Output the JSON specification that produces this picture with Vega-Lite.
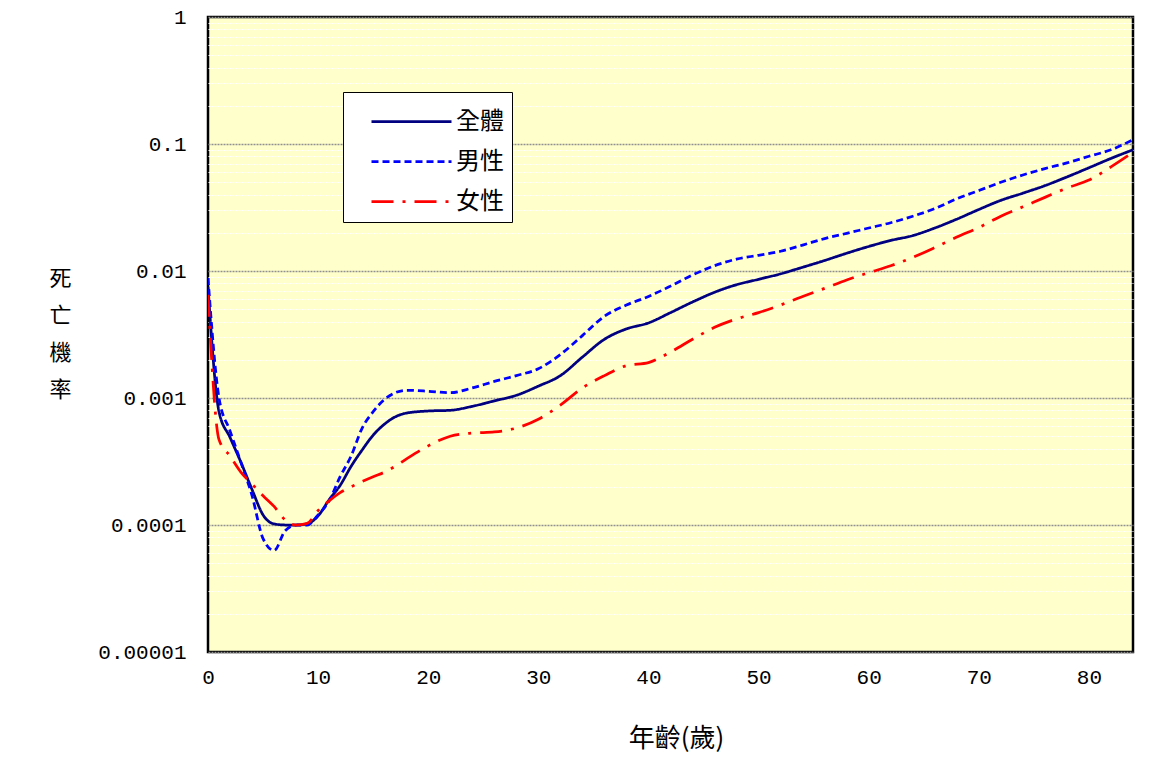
{
  "$schema": "https://vega.github.io/schema/vega-lite/v6.json",
  "width": 925,
  "height": 635,
  "autosize": {"type": "none"},
  "padding": {"left": 208, "top": 17, "right": 43, "bottom": 124},
  "background": "white",
  "config": {
    "view": {"fill": "#FFFFCC", "stroke": "black", "strokeWidth": 2.5},
    "axis": {"labelFont": "Liberation Mono", "labelFontSize": 21, "labelColor": "black", "labelFlush": false, "titleFont": "Noto Sans CJK TC", "titleFontWeight": "normal", "titleColor": "black", "domain": false, "ticks": false}
  },
  "data": {"values": [
    {"age":0,"g":"全體","p":0.0075},{"age":1,"g":"全體","p":0.00078},{"age":2,"g":"全體","p":0.00049},{"age":3,"g":"全體","p":0.00031},{"age":4,"g":"全體","p":0.00019},{"age":5,"g":"全體","p":0.00012},{"age":6,"g":"全體","p":0.000102},{"age":7,"g":"全體","p":0.0001},{"age":8,"g":"全體","p":0.0001},{"age":9,"g":"全體","p":0.000102},{"age":10,"g":"全體","p":0.000118},{"age":11,"g":"全體","p":0.000158},{"age":12,"g":"全體","p":0.000205},{"age":13,"g":"全體","p":0.00029},{"age":14,"g":"全體","p":0.00039},{"age":15,"g":"全體","p":0.00051},{"age":16,"g":"全體","p":0.00062},{"age":17,"g":"全體","p":0.00071},{"age":18,"g":"全體","p":0.00076},{"age":20,"g":"全體","p":0.00079},{"age":22,"g":"全體","p":0.0008},{"age":24,"g":"全體","p":0.00086},{"age":26,"g":"全體","p":0.00095},{"age":28,"g":"全體","p":0.00105},{"age":30,"g":"全體","p":0.00124},{"age":32,"g":"全體","p":0.0015},{"age":34,"g":"全體","p":0.0021},{"age":36,"g":"全體","p":0.0029},{"age":38,"g":"全體","p":0.0035},{"age":40,"g":"全體","p":0.0039},{"age":42,"g":"全體","p":0.0047},{"age":44,"g":"全體","p":0.0057},{"age":46,"g":"全體","p":0.0068},{"age":48,"g":"全體","p":0.0078},{"age":50,"g":"全體","p":0.0086},{"age":52,"g":"全體","p":0.0095},{"age":54,"g":"全體","p":0.0107},{"age":56,"g":"全體","p":0.0121},{"age":58,"g":"全體","p":0.0138},{"age":60,"g":"全體","p":0.0156},{"age":62,"g":"全體","p":0.0174},{"age":64,"g":"全體","p":0.019},{"age":66,"g":"全體","p":0.0218},{"age":68,"g":"全體","p":0.0256},{"age":70,"g":"全體","p":0.0305},{"age":72,"g":"全體","p":0.036},{"age":74,"g":"全體","p":0.041},{"age":76,"g":"全體","p":0.047},{"age":78,"g":"全體","p":0.055},{"age":80,"g":"全體","p":0.065},{"age":82,"g":"全體","p":0.077},{"age":84,"g":"全體","p":0.09},
    {"age":0,"g":"男性","p":0.0088},{"age":1,"g":"男性","p":0.001},{"age":2,"g":"男性","p":0.00055},{"age":3,"g":"男性","p":0.00031},{"age":4,"g":"男性","p":0.00017},{"age":5,"g":"男性","p":0.000078},{"age":6,"g":"男性","p":0.000063},{"age":7,"g":"男性","p":0.00009},{"age":8,"g":"男性","p":0.0001},{"age":9,"g":"男性","p":0.0001},{"age":10,"g":"男性","p":0.00012},{"age":11,"g":"男性","p":0.000155},{"age":12,"g":"男性","p":0.00024},{"age":13,"g":"男性","p":0.00035},{"age":14,"g":"男性","p":0.00058},{"age":15,"g":"男性","p":0.00078},{"age":16,"g":"男性","p":0.00097},{"age":17,"g":"男性","p":0.0011},{"age":18,"g":"男性","p":0.00115},{"age":20,"g":"男性","p":0.00113},{"age":22,"g":"男性","p":0.0011},{"age":24,"g":"男性","p":0.0012},{"age":26,"g":"男性","p":0.00135},{"age":28,"g":"男性","p":0.0015},{"age":30,"g":"男性","p":0.0017},{"age":32,"g":"男性","p":0.0022},{"age":34,"g":"男性","p":0.0031},{"age":36,"g":"男性","p":0.0044},{"age":38,"g":"男性","p":0.0054},{"age":40,"g":"男性","p":0.0063},{"age":42,"g":"男性","p":0.0076},{"age":44,"g":"男性","p":0.0093},{"age":46,"g":"男性","p":0.011},{"age":48,"g":"男性","p":0.0124},{"age":50,"g":"男性","p":0.0133},{"age":52,"g":"男性","p":0.0143},{"age":54,"g":"男性","p":0.016},{"age":56,"g":"男性","p":0.018},{"age":58,"g":"男性","p":0.0198},{"age":60,"g":"男性","p":0.0218},{"age":62,"g":"男性","p":0.024},{"age":64,"g":"男性","p":0.027},{"age":66,"g":"男性","p":0.031},{"age":68,"g":"男性","p":0.037},{"age":70,"g":"男性","p":0.043},{"age":72,"g":"男性","p":0.05},{"age":74,"g":"男性","p":0.057},{"age":76,"g":"男性","p":0.064},{"age":78,"g":"男性","p":0.071},{"age":80,"g":"男性","p":0.08},{"age":82,"g":"男性","p":0.09},{"age":84,"g":"男性","p":0.108},
    {"age":0,"g":"女性","p":0.0065},{"age":1,"g":"女性","p":0.00047},{"age":2,"g":"女性","p":0.00035},{"age":3,"g":"女性","p":0.00026},{"age":4,"g":"女性","p":0.00021},{"age":5,"g":"女性","p":0.00017},{"age":6,"g":"女性","p":0.00014},{"age":7,"g":"女性","p":0.00011},{"age":8,"g":"女性","p":0.0001},{"age":9,"g":"女性","p":0.000103},{"age":10,"g":"女性","p":0.00013},{"age":11,"g":"女性","p":0.000155},{"age":12,"g":"女性","p":0.00018},{"age":13,"g":"女性","p":0.0002},{"age":14,"g":"女性","p":0.00022},{"age":15,"g":"女性","p":0.00024},{"age":16,"g":"女性","p":0.00026},{"age":17,"g":"女性","p":0.00029},{"age":18,"g":"女性","p":0.00033},{"age":20,"g":"女性","p":0.00042},{"age":22,"g":"女性","p":0.0005},{"age":24,"g":"女性","p":0.00053},{"age":26,"g":"女性","p":0.00054},{"age":28,"g":"女性","p":0.00058},{"age":30,"g":"女性","p":0.00068},{"age":32,"g":"女性","p":0.00088},{"age":34,"g":"女性","p":0.0012},{"age":36,"g":"女性","p":0.0015},{"age":38,"g":"女性","p":0.0018},{"age":40,"g":"女性","p":0.0019},{"age":42,"g":"女性","p":0.0023},{"age":44,"g":"女性","p":0.0029},{"age":46,"g":"女性","p":0.0036},{"age":48,"g":"女性","p":0.0042},{"age":50,"g":"女性","p":0.0047},{"age":52,"g":"女性","p":0.0054},{"age":54,"g":"女性","p":0.0063},{"age":56,"g":"女性","p":0.0073},{"age":58,"g":"女性","p":0.0085},{"age":60,"g":"女性","p":0.0097},{"age":62,"g":"女性","p":0.011},{"age":64,"g":"女性","p":0.0128},{"age":66,"g":"女性","p":0.0153},{"age":68,"g":"女性","p":0.0185},{"age":70,"g":"女性","p":0.022},{"age":72,"g":"女性","p":0.027},{"age":74,"g":"女性","p":0.032},{"age":76,"g":"女性","p":0.038},{"age":78,"g":"女性","p":0.045},{"age":80,"g":"女性","p":0.052},{"age":82,"g":"女性","p":0.066},{"age":84,"g":"女性","p":0.086}
  ]},
  "mark": {"type": "line", "interpolate": "monotone", "strokeWidth": 2.75, "clip": true},
  "encoding": {
    "x": {"field": "age", "type": "quantitative",
      "scale": {"domain": [0, 84], "nice": false, "zero": false},
      "axis": {"values": [0,10,20,30,40,50,60,70,80], "grid": false, "labelPadding": 14, "labelAngle": 0,
        "title": "年齡(歲)", "titleFontSize": 26, "titleX": 468, "titleY": 86, "titleBaseline": "middle", "titleAnchor": "middle"}},
    "y": {"field": "p", "type": "quantitative",
      "scale": {"type": "log", "domain": [0.00001, 1], "nice": false},
      "axis": {
        "values": [0.00001,0.00002,0.00003,0.00004,0.00005,0.00006,0.00007,0.00008,0.00009,0.0001,0.0002,0.0003,0.0004,0.0005,0.0006,0.0007,0.0008,0.0009,0.001,0.002,0.003,0.004,0.005,0.006,0.007,0.008,0.009,0.01,0.02,0.03,0.04,0.05,0.06,0.07,0.08,0.09,0.1,0.2,0.3,0.4,0.5,0.6,0.7,0.8,0.9,1],
        "labelExpr": "abs(log(datum.value)/LN10 - round(log(datum.value)/LN10)) < 0.000001 ? format(datum.value, '.5~f') : ''",
        "labelPadding": 22,
        "grid": true,
        "gridColor": {"condition": {"test": "abs(log(datum.value)/LN10 - round(log(datum.value)/LN10)) < 0.000001", "value": "#909090"}, "value": "#FFFFFF"},
        "gridWidth": {"condition": {"test": "abs(log(datum.value)/LN10 - round(log(datum.value)/LN10)) < 0.000001", "value": 1.5}, "value": 1},
        "gridDash": [2, 1],
        "gridOpacity": 1,
        "title": ["死", "亡", "機", "率"], "titleAngle": 0, "titleFontSize": 22, "titleLineHeight": 37,
        "titleX": -148, "titleY": 251, "titleAlign": "center", "titleBaseline": "top"}},
    "color": {"field": "g", "type": "nominal",
      "scale": {"domain": ["全體", "男性", "女性"], "range": ["#000080", "#0000FF", "#FF0000"]},
      "legend": {"title": null, "orient": "none", "legendX": 135, "legendY": 75,
        "fillColor": "white", "strokeColor": "black", "padding": 8,
        "symbolType": "M-2,0H2", "symbolSize": 1600, "symbolStrokeWidth": 2.75, "symbolOffset": 39,
        "labelFont": "Noto Sans CJK TC", "labelFontSize": 24, "labelColor": "black", "labelOffset": 23, "rowPadding": 6}},
    "strokeDash": {"field": "g", "type": "nominal",
      "scale": {"domain": ["全體", "男性", "女性"], "range": [[1, 0], [7, 4], [22, 9, 3, 9]]}}
  }
}
